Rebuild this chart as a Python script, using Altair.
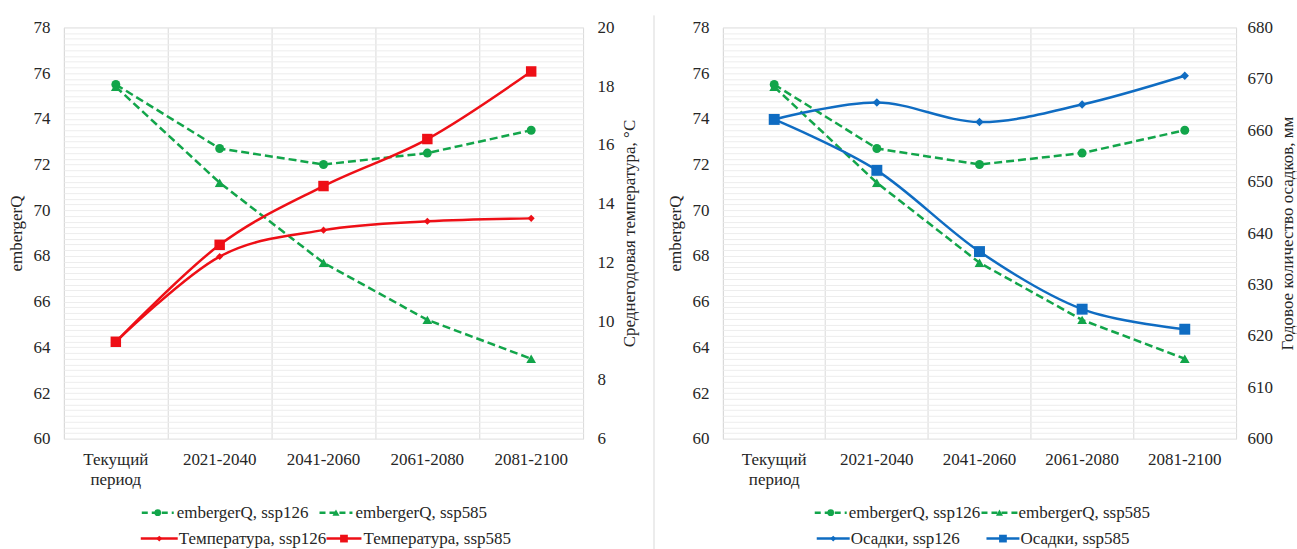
import altair as alt
import numpy as np
import pandas as pd

# ---- data -------------------------------------------------------------
periods = ["Текущий период", "2021-2040", "2041-2060", "2061-2080", "2081-2100"]

emberger_ssp126 = [75.5, 72.7, 72.0, 72.5, 73.5]
emberger_ssp585 = [75.4, 71.2, 67.7, 65.2, 63.5]
temp_ssp126 = [9.3, 12.2, 13.1, 13.4, 13.5]
temp_ssp585 = [9.3, 12.6, 14.6, 16.2, 18.5]
precip_ssp126 = [662.1, 665.4, 661.6, 665.0, 670.6]
precip_ssp585 = [662.1, 652.2, 636.4, 625.2, 621.3]

label_emb126 = "embergerQ, ssp126"
label_emb585 = "embergerQ, ssp585"
label_t126 = "Температура, ssp126"
label_t585 = "Температура, ssp585"
label_p126 = "Осадки, ssp126"
label_p585 = "Осадки, ssp585"

title_emb = "embergerQ"
title_temp = "Среднегодовая температура, °C"
title_precip = "Годовое количество осадков, мм"

# ---- styling ----------------------------------------------------------
FONT = "Liberation Serif, Times New Roman, DejaVu Serif, serif"
GREEN = "#12A54A"
RED = "#EE0F16"
BLUE = "#0F6CC2"
TEXT = "#262626"
W_LEFT, W_RIGHT, H = 520, 514, 412

x_scale = alt.Scale(type="band", paddingInner=0, paddingOuter=0)
x_axis = alt.Axis(
    title=None, labelAngle=0, grid=True, gridColor="#D9D9D9", bandPosition=0,
    labelPadding=13, labelLineHeight=20, labelExpr="split(datum.label, ' ')",
)

fine_grid = [float(v) for v in np.arange(60, 78.001, 0.25)]
emb_axis = alt.Axis(
    title=title_emb, values=fine_grid, format=".0f", labelOverlap=False,
    labelExpr="datum.value % 2 === 0 ? datum.label : ''",
    grid=True, gridColor="#EDEDED", labelPadding=14, titlePadding=7,
)


def series(values, label, color, shape, size, y_domain, axis, dash=None, interp="linear"):
    df = pd.DataFrame({"period": periods, "value": values, "series": label})
    base = alt.Chart(df).encode(
        x=alt.X("period:N", sort=periods, scale=x_scale, axis=x_axis),
        y=alt.Y("value:Q", scale=alt.Scale(domain=y_domain, nice=False, zero=False), axis=axis),
    )
    line_kw = dict(color=color, strokeWidth=2.5, interpolate=interp)
    if dash:
        line_kw["strokeDash"] = dash
    line = base.mark_line(**line_kw)
    pts = base.mark_point(filled=True, shape=shape, size=size, color=color, opacity=1)
    return [line, pts]


one = pd.DataFrame({"k": [0]})


def legend_item(label, color, shape, size, x0, x1, tx, y, dash=None):
    rule_kw = dict(color=color, strokeWidth=2.5)
    if dash:
        rule_kw["strokeDash"] = dash
    sym_line = alt.Chart(one).mark_rule(**rule_kw).encode(
        x=alt.value(x0), x2=alt.value(x1), y=alt.value(y))
    sym_pt = alt.Chart(one).mark_point(filled=True, shape=shape, size=size, color=color, opacity=1).encode(
        x=alt.value((x0 + x1) / 2), y=alt.value(y))
    txt = alt.Chart(one).mark_text(align="left", baseline="middle", font=FONT, fontSize=17, color=TEXT).encode(
        x=alt.value(tx), y=alt.value(y), text=alt.value(label))
    return [sym_line, sym_pt, txt]


def frame_rule(x, color, y0=-26, y1=523):
    return alt.Chart(one).mark_rule(color=color, strokeWidth=1).encode(
        x=alt.value(x), y=alt.value(y0), y2=alt.value(y1))


DASH = [8, 4]
R1, R2 = 486, 512

# ---- left panel: embergerQ + temperature ------------------------------
emb_left = alt.layer(
    *series(emberger_ssp126, label_emb126, GREEN, "circle", 80, [60, 78], emb_axis, dash=DASH),
    *series(emberger_ssp585, label_emb585, GREEN, "triangle-up", 95, [60, 78], emb_axis, dash=DASH),
)
temp_axis = alt.Axis(title=title_temp, orient="right", values=list(range(6, 21, 2)),
                     grid=False, labelPadding=14, titlePadding=7,
                     titleAngle=270, titleBaseline="top")
temp_layer = alt.layer(
    *series(temp_ssp126, label_t126, RED, "diamond", 50, [6, 20], temp_axis, interp="cardinal"),
    *series(temp_ssp585, label_t585, RED, "square", 110, [6, 20], temp_axis, interp="cardinal"),
)
left_legend = (
    legend_item(label_emb126, GREEN, "circle", 45, 78, 110, 113, R1, dash=[6, 4])
    + legend_item(label_emb585, GREEN, "triangle-up", 50, 256, 289, 292, R1, dash=[6, 4])
    + legend_item(label_t126, RED, "diamond", 35, 77, 114, 115, R2)
    + legend_item(label_t585, RED, "square", 60, 263, 298, 300, R2)
)
left = alt.layer(
    emb_left, temp_layer,
    frame_rule(-63, "white"), frame_rule(591, "#D9D9D9", y0=-12),
    *left_legend,
).resolve_scale(y="independent").properties(width=W_LEFT, height=H)

# ---- right panel: embergerQ + precipitation ---------------------------
emb_right = alt.layer(
    *series(emberger_ssp126, label_emb126, GREEN, "circle", 80, [60, 78], emb_axis, dash=DASH),
    *series(emberger_ssp585, label_emb585, GREEN, "triangle-up", 95, [60, 78], emb_axis, dash=DASH),
)
precip_axis = alt.Axis(title=title_precip, orient="right", values=list(range(600, 681, 10)),
                       grid=False, labelPadding=11, titlePadding=7,
                       titleAngle=270, titleBaseline="top")
precip_layer = alt.layer(
    *series(precip_ssp126, label_p126, BLUE, "diamond", 70, [600, 680], precip_axis, interp="cardinal"),
    *series(precip_ssp585, label_p585, BLUE, "square", 120, [600, 680], precip_axis, interp="cardinal"),
)
right_legend = (
    legend_item(label_emb126, GREEN, "circle", 45, 92, 124, 126, R1, dash=[6, 4])
    + legend_item(label_emb585, GREEN, "triangle-up", 50, 259, 295, 296, R1, dash=[6, 4])
    + legend_item(label_p126, BLUE, "diamond", 35, 94, 127, 128, R2)
    + legend_item(label_p585, BLUE, "square", 60, 264, 297, 298, R2)
)
right = alt.layer(
    emb_right, precip_layer,
    frame_rule(574, "white"),
    *right_legend,
).resolve_scale(y="independent").properties(width=W_RIGHT, height=H)

chart = (
    alt.hconcat(left, right, spacing=140, bounds="flush")
    .properties(padding=0, background="white")
    .configure_view(stroke="#D9D9D9", strokeWidth=1)
    .configure_axis(
        labelFont=FONT, titleFont=FONT, labelFontSize=17, titleFontSize=17,
        labelColor=TEXT, titleColor=TEXT, titleFontWeight="normal",
        domain=False, ticks=False,
    )
)

chart.save("out.html", embed_options={"renderer": "svg", "actions": False})
